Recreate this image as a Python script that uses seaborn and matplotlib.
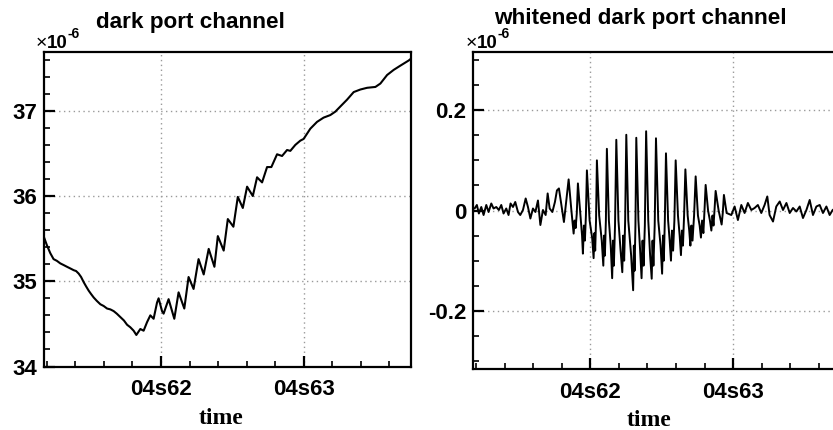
import matplotlib
matplotlib.use("Agg")
import matplotlib.pyplot as plt
import pandas as pd
import seaborn as sns
from matplotlib.ticker import FixedLocator, FixedFormatter, MultipleLocator

# Dark port channel: time in ms after 04s62, value in units of 1e-6
raw_t_ms = [-8.23, -7.99, -7.76, -7.53, -7.30, -7.06, -6.82, -6.59, -6.35, -6.12, -5.95, -5.77,
            -5.60, -5.42, -5.25, -5.07, -4.90, -4.72, -4.50, -4.25, -4.02, -3.78, -3.55,
            -3.32, -3.10, -2.85, -2.60, -2.38, -2.15, -1.92, -1.73, -1.45, -1.22,
            -0.98, -0.75, -0.52, -0.28, -0.17, 0.07, 0.18, 0.53, 0.93, 1.23,
            1.63, 1.93, 2.28, 2.63, 2.99, 3.34, 3.74, 3.98, 4.39, 4.68,
            5.07, 5.38, 5.73, 6.03, 6.43, 6.73, 7.08, 7.43, 7.73, 8.13,
            8.48, 8.83, 9.06, 9.41, 9.76, 9.99, 10.46, 10.93, 11.39, 11.86,
            12.21, 12.56, 13.03, 13.50, 13.97, 14.44, 15.02, 15.37, 15.84, 16.30,
            16.77, 17.35, 17.50]
raw_val = [35.53, 35.42, 35.33, 35.26, 35.24, 35.21, 35.19, 35.17, 35.15, 35.13, 35.12, 35.09,
           35.05, 34.99, 34.94, 34.89, 34.85, 34.81, 34.77, 34.73, 34.71, 34.68, 34.67,
           34.65, 34.62, 34.58, 34.54, 34.49, 34.46, 34.42, 34.37, 34.44, 34.42,
           34.52, 34.60, 34.56, 34.75, 34.80, 34.65, 34.62, 34.79, 34.56, 34.87,
           34.68, 35.05, 34.91, 35.26, 35.08, 35.38, 35.17, 35.53, 35.36, 35.73,
           35.64, 35.99, 35.86, 36.11, 36.00, 36.22, 36.16, 36.34, 36.34, 36.49,
           36.47, 36.54, 36.53, 36.60, 36.65, 36.67, 36.79, 36.87, 36.92, 36.95,
           36.99, 37.05, 37.13, 37.22, 37.25, 37.27, 37.28, 37.32, 37.42, 37.48,
           37.53, 37.59, 37.61]

# Whitened dark port channel, as [time in ms after 04s62, value in units of 1e-6]
white_pre = [
    [-8.11, 0.004], [-7.95, 0.011], [-7.81, -0.006], [-7.64, 0.007], [-7.48, -0.009],
    [-7.29, 0.011], [-7.13, -0.003], [-6.94, 0.014], [-6.78, 0.004], [-6.59, 0.007],
    [-6.41, 0.001], [-6.24, 0.011], [-6.08, -0.006], [-5.89, 0.004], [-5.73, -0.009],
    [-5.59, 0.014], [-5.42, 0.007], [-5.26, 0.017], [-5.07, -0.003], [-4.91, -0.009],
    [-4.72, 0.001], [-4.53, 0.024], [-4.37, 0.007], [-4.20, -0.016], [-4.02, 0.004],
    [-3.85, -0.003], [-3.67, 0.020], [-3.50, -0.029], [-3.32, 0.001], [-3.13, -0.009],
    [-2.99, 0.034], [-2.85, 0.004], [-2.66, -0.003], [-2.48, 0.017], [-2.34, 0.040],
]
white_burst = [
    [-2.20, 0.044], [-2.03, 0.011], [-1.85, -0.023], [-1.68, 0.020], [-1.52, 0.062],
    [-1.33, 0.001], [-1.17, -0.046], [-1.10, -0.020], [-1.03, -0.035], [-0.95, -0.006],
    [-0.87, 0.054], [-0.70, -0.006], [-0.58, -0.050], [-0.52, -0.086], [-0.45, -0.030],
    [-0.38, -0.060], [-0.31, -0.010], [-0.24, 0.080],
    [-0.05, -0.020], [0.13, -0.055], [0.23, -0.095], [0.29, -0.045], [0.34, -0.080], [0.40, -0.020],
    [0.46, 0.100],
    [0.62, -0.010], [0.80, -0.060], [0.91, -0.110], [0.96, -0.050], [1.02, -0.090], [1.09, -0.020],
    [1.16, 0.123],
    [1.30, -0.020], [1.43, -0.070], [1.53, -0.135], [1.59, -0.060], [1.65, -0.110], [1.73, -0.030],
    [1.82, 0.141],
    [1.97, -0.020], [2.12, -0.080], [2.24, -0.123], [2.30, -0.050], [2.37, -0.100], [2.44, -0.020],
    [2.52, 0.151],
    [2.66, -0.020], [2.86, -0.090], [3.00, -0.159], [3.05, -0.070], [3.10, -0.120], [3.16, -0.030],
    [3.22, 0.145],
    [3.37, -0.020], [3.49, -0.080], [3.59, -0.135], [3.66, -0.060], [3.73, -0.110], [3.82, -0.030],
    [3.91, 0.158],
    [4.06, -0.020], [4.19, -0.090], [4.30, -0.136], [4.36, -0.060], [4.42, -0.110], [4.51, -0.030],
    [4.60, 0.144],
    [4.76, -0.020], [4.92, -0.070], [5.03, -0.126], [5.09, -0.050], [5.15, -0.100], [5.22, -0.020],
    [5.30, 0.114],
    [5.45, -0.020], [5.56, -0.060], [5.65, -0.100], [5.72, -0.040], [5.80, -0.080], [5.89, -0.020],
    [5.98, 0.100],
    [6.14, -0.010], [6.26, -0.050], [6.35, -0.089], [6.42, -0.040], [6.49, -0.070], [6.57, -0.010],
    [6.66, 0.082],
    [6.82, -0.010], [6.93, -0.040], [7.01, -0.070], [7.08, -0.030], [7.16, -0.060], [7.27, -0.010],
    [7.38, 0.068],
    [7.54, -0.010], [7.66, -0.030], [7.75, -0.054], [7.83, -0.020], [7.92, -0.045], [8.00, 0.000],
    [8.08, 0.051],
    [8.25, 0.000], [8.38, -0.020], [8.48, -0.040], [8.56, -0.010], [8.63, -0.030], [8.70, 0.000],
    [8.78, 0.039],
    [8.99, 0.000], [9.20, -0.028], [9.28, -0.005], [9.36, 0.031], [9.55, -0.005],
]
white_post = [
    [9.88, -0.009], [10.11, 0.008], [10.34, -0.019], [10.58, 0.011], [10.81, -0.005],
    [11.04, 0.015], [11.28, 0.001], [11.51, 0.005], [11.74, 0.011], [11.98, -0.005],
    [12.21, 0.011], [12.40, 0.028], [12.56, -0.009], [12.80, -0.022], [13.03, 0.008],
    [13.27, 0.018], [13.50, 0.001], [13.74, 0.015], [13.97, -0.005], [14.20, 0.005],
    [14.44, -0.002], [14.67, 0.008], [14.90, -0.015], [15.14, 0.001], [15.37, 0.021],
    [15.60, -0.009], [15.84, 0.008], [16.07, 0.011], [16.30, -0.005], [16.54, 0.008],
    [16.77, -0.009], [16.98, 0.001], [17.19, 0.005], [17.47, -0.003],
]

time_tick_ms = [0, 10]
time_tick_labels = ["04s62", "04s63"]
raw_yticks = [34, 35, 36, 37]
raw_ytick_labels = ["34", "35", "36", "37"]
white_yticks = [-0.2, 0.0, 0.2]
white_ytick_labels = ["-0.2", "0", "0.2"]

titles = ["dark port channel", "whitened dark port channel"]
xlabel = "time"

sns.set_theme(style="white")
plt.rcParams["font.family"] = ["Liberation Sans", "DejaVu Sans"]
plt.rcParams["font.weight"] = "bold"
for key in ("text.color", "axes.labelcolor", "xtick.color", "ytick.color",
            "axes.edgecolor"):
    plt.rcParams[key] = "black"

W, H = 833, 430
fig = plt.figure(figsize=(W / 100, H / 100), dpi=100)
fig.patch.set_facecolor("white")

ax1 = fig.add_axes([44 / W, 1 - 366.5 / H, 366.5 / W, 314.5 / H])
ax2 = fig.add_axes([473.3 / W, 1 - 369 / H, 366.5 / W, 317 / H])

raw_df = pd.DataFrame({"t": raw_t_ms, "v": raw_val})
white_df = pd.DataFrame(white_pre + white_burst + white_post, columns=["t", "v"])

sns.lineplot(data=raw_df, x="t", y="v", ax=ax1, color="black", linewidth=1.5,
             estimator=None, sort=False)
sns.lineplot(data=white_df, x="t", y="v", ax=ax2, color="black", linewidth=1.4,
             estimator=None, sort=False)

ax1.set_ylim(34.0, 37.69)
ax2.set_ylim(-0.316, 0.316)


def style_axes(ax, yticks, ylabels, yminor):
    ax.set_xlim(-8.2, 17.48)
    ax.set_xlabel("")
    ax.set_ylabel("")
    ax.set_facecolor("white")
    ax.xaxis.set_major_locator(FixedLocator(time_tick_ms))
    ax.xaxis.set_major_formatter(FixedFormatter(time_tick_labels))
    ax.xaxis.set_minor_locator(MultipleLocator(2))
    ax.yaxis.set_major_locator(FixedLocator(yticks))
    ax.yaxis.set_major_formatter(FixedFormatter(ylabels))
    ax.yaxis.set_minor_locator(MultipleLocator(yminor))
    ax.tick_params(which="both", direction="in", top=False, right=False,
                   left=True, bottom=True, colors="black", labelcolor="black")
    ax.tick_params(which="major", length=8, width=1.6, labelsize=16)
    ax.tick_params(which="minor", length=4, width=1.2)
    ax.tick_params(axis="x", which="major", pad=9)
    ax.tick_params(axis="y", which="major", pad=5)
    ax.grid(True, which="major", color="#9a9a9a", linestyle=(0, (1, 2.5)),
            linewidth=1.0)
    ax.set_axisbelow(True)
    for sp in ax.spines.values():
        sp.set_visible(True)
        sp.set_color("black")
        sp.set_linewidth(1.6)
    for lab in ax.get_xticklabels() + ax.get_yticklabels():
        lab.set_fontweight("bold")


style_axes(ax1, raw_yticks, raw_ytick_labels, 0.2)
style_axes(ax2, white_yticks, white_ytick_labels, 0.05)


def ftext(x, y, s, **kw):
    fig.text(x / W, 1 - y / H, s, color="black", **kw)


# titles
ftext(190, 28, titles[0], ha="center", va="baseline", fontsize=16.2, fontweight="bold")
ftext(640, 24, titles[1], ha="center", va="baseline", fontsize=16.2, fontweight="bold")

# exponent markers above each frame
for x0 in (36, 465.5):
    ftext(x0, 48.5, "\u00d7", ha="left", va="baseline", fontsize=14, fontweight="normal")
    ftext(x0 + 11, 48.5, "10", ha="left", va="baseline", fontsize=13.5, fontweight="bold")
    ftext(x0 + 32, 38.5, "-6", ha="left", va="baseline", fontsize=10, fontweight="bold")

# axis titles
ftext(221, 424, xlabel, ha="center", va="baseline", fontsize=17, fontweight="bold",
      family=["Liberation Serif", "DejaVu Serif"])
ftext(649, 426, xlabel, ha="center", va="baseline", fontsize=17, fontweight="bold",
      family=["Liberation Serif", "DejaVu Serif"])

fig.savefig("out.png", dpi=100, facecolor="white")
